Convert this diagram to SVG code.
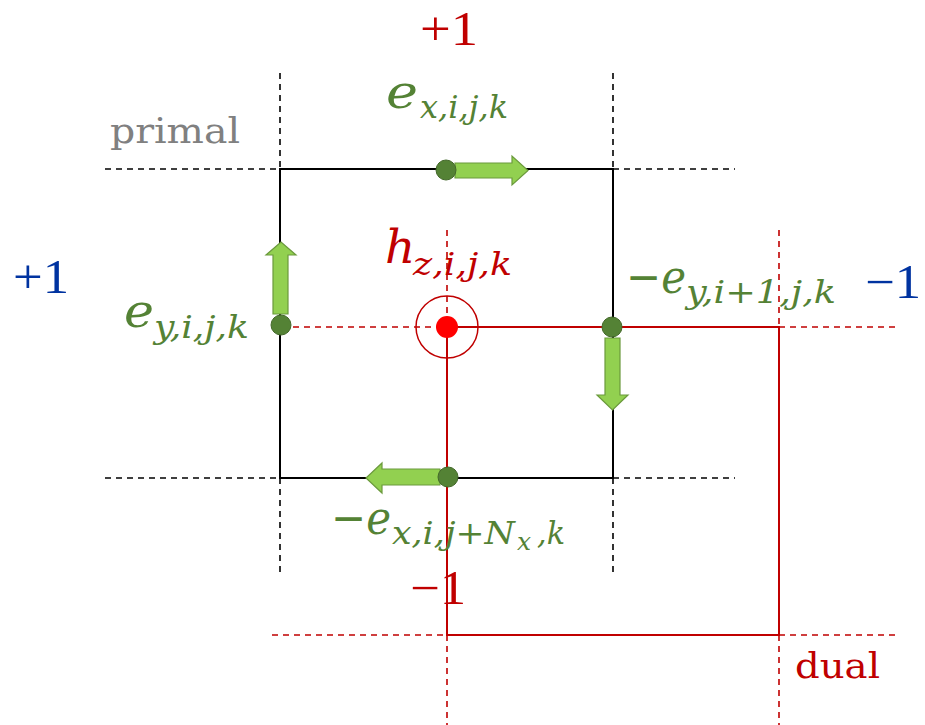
<svg xmlns="http://www.w3.org/2000/svg" width="925" height="725" viewBox="0 0 925 725">
<style>
.pl{stroke:#000;stroke-width:2;fill:none}
.pd{stroke:#000;stroke-width:1.6;fill:none;stroke-dasharray:6,5}
.dl{stroke:#c00000;stroke-width:2;fill:none}
.dd{stroke:#c00000;stroke-width:1.6;fill:none;stroke-dasharray:6,5}
.arr{fill:#92d050;stroke:#6b9a3c;stroke-width:1.2}
.dot{fill:#548235;stroke:#44692b;stroke-width:1}
.num{font-family:"Liberation Serif","DejaVu Serif",serif;font-size:48px}
.word{font-family:"DejaVu Serif","Liberation Serif",serif;font-size:36px}
.m{font-family:"DejaVu Serif","Liberation Serif",serif;font-style:italic}
.big{font-size:47px}
.sub{font-size:32px}
.g{fill:#548235}
.r{fill:#c00000}
.b{fill:#0033a0}
</style>
<g id="connectors">
  <g id="primal-grid">
    <rect class="pl" x="280" y="169" width="333" height="309"/>
    <line class="pd" x1="105" y1="169" x2="280" y2="169"/>
    <line class="pd" x1="613" y1="169" x2="735" y2="169"/>
    <line class="pd" x1="105" y1="478" x2="280" y2="478"/>
    <line class="pd" x1="613" y1="478" x2="735" y2="478"/>
    <line class="pd" x1="280" y1="73" x2="280" y2="169"/>
    <line class="pd" x1="613" y1="73" x2="613" y2="169"/>
    <line class="pd" x1="280" y1="478" x2="280" y2="572"/>
    <line class="pd" x1="613" y1="478" x2="613" y2="572"/>
  </g>
  <g id="dual-grid">
    <rect class="dl" x="447" y="327" width="332" height="308"/>
    <line class="dd" x1="293" y1="327" x2="447" y2="327"/>
    <line class="dd" x1="779" y1="327" x2="900" y2="327"/>
    <line class="dd" x1="272" y1="635" x2="447" y2="635"/>
    <line class="dd" x1="779" y1="635" x2="900" y2="635"/>
    <line class="dd" x1="447" y1="230" x2="447" y2="327"/>
    <line class="dd" x1="779" y1="230" x2="779" y2="327"/>
    <line class="dd" x1="447" y1="635" x2="447" y2="725"/>
    <line class="dd" x1="779" y1="635" x2="779" y2="725"/>
  </g>
</g>
<g id="node-hz">
  <circle cx="447" cy="327" r="31" fill="none" stroke="#c00000" stroke-width="1.5"/>
  <circle cx="447" cy="327" r="11" fill="#ff0000"/>
  <text class="m big r" x="385" y="263">h</text>
  <text class="m sub r" x="413" y="275" textLength="99" lengthAdjust="spacingAndGlyphs">z,i,j,k</text>
</g>
<g id="node-ex-top">
  <path class="arr" d="M455,163 L512,163 L512,156 L528,170.5 L512,185 L512,178 L455,178 Z"/>
  <circle class="dot" cx="446" cy="170" r="10"/>
  <text class="m big g" x="386" y="108" textLength="32" lengthAdjust="spacingAndGlyphs">e</text>
  <text class="m sub g" x="420" y="118" textLength="88" lengthAdjust="spacingAndGlyphs">x,i,j,k</text>
</g>
<g id="node-ey-left">
  <path class="arr" d="M273,314 L273,255 L266,255 L281,242 L296,255 L288,255 L288,314 Z"/>
  <circle class="dot" cx="281" cy="325" r="10"/>
  <text class="m big g" x="124" y="327" textLength="30" lengthAdjust="spacingAndGlyphs">e</text>
  <text class="m sub g" x="154" y="338" textLength="95" lengthAdjust="spacingAndGlyphs">y,i,j,k</text>
</g>
<g id="node-ey-right">
  <path class="arr" d="M605,338 L605,395 L597,395 L612.5,410 L628,395 L620,395 L620,338 Z"/>
  <circle class="dot" cx="612" cy="327" r="10"/>
  <text class="m big g" x="626" y="293" textLength="60" lengthAdjust="spacingAndGlyphs">−e</text>
  <text class="m sub g" x="686" y="303" textLength="150" lengthAdjust="spacingAndGlyphs">y,i+1,j,k</text>
</g>
<g id="node-ex-bottom">
  <path class="arr" d="M440,469 L382,469 L382,463 L366,478 L382,493 L382,485 L440,485 Z"/>
  <circle class="dot" cx="448" cy="477" r="10"/>
  <text class="m big g" x="331" y="534" textLength="60" lengthAdjust="spacingAndGlyphs">−e</text>
  <text class="m sub g" x="392" y="544" textLength="123" lengthAdjust="spacingAndGlyphs">x,i,j+N</text>
  <text class="m g" x="517" y="550" font-size="25">x</text>
  <text class="m sub g" x="537" y="544" textLength="28" lengthAdjust="spacingAndGlyphs">,k</text>
</g>
<g id="labels">
  <text class="num r" x="420" y="45" textLength="58" lengthAdjust="spacingAndGlyphs">+1</text>
  <text class="num b" x="13" y="293" textLength="56" lengthAdjust="spacingAndGlyphs">+1</text>
  <text class="num b" x="865" y="298" textLength="56" lengthAdjust="spacingAndGlyphs">−1</text>
  <text class="num r" x="410" y="604" textLength="56" lengthAdjust="spacingAndGlyphs">−1</text>
  <text class="word" x="110" y="143" fill="#808080" textLength="130" lengthAdjust="spacingAndGlyphs">primal</text>
  <text class="word r" x="795" y="678" textLength="85" lengthAdjust="spacingAndGlyphs">dual</text>
</g>
</svg>
